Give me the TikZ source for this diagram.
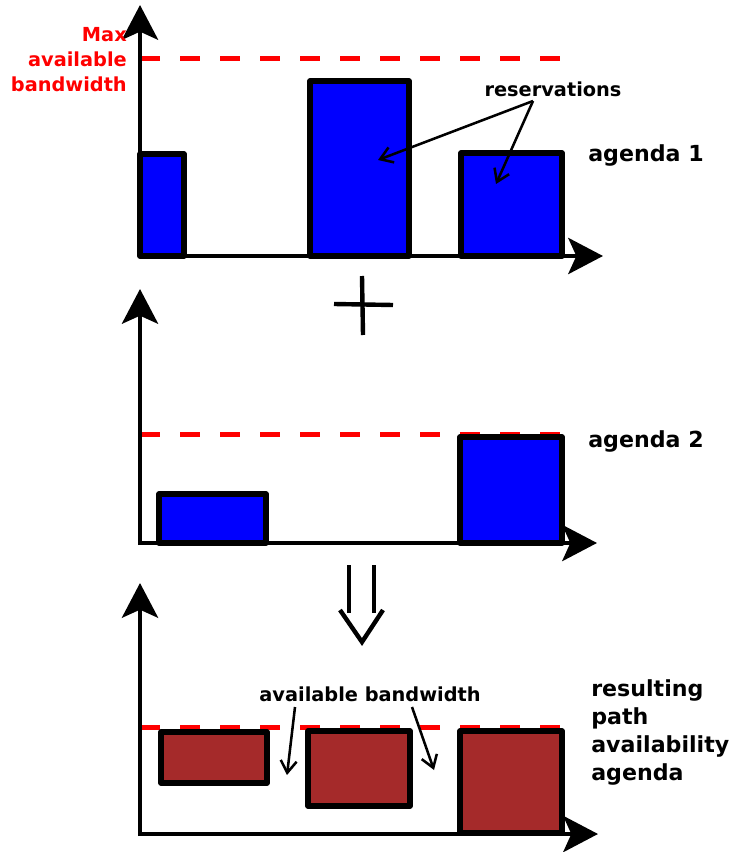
\documentclass[tikz,border=0pt]{standalone}
\usepackage{fontspec}
\setmainfont{DejaVu Sans}
\usetikzlibrary{arrows.meta}
\definecolor{barblue}{RGB}{0,0,255}
\definecolor{barbrown}{RGB}{165,42,42}
\definecolor{maxred}{RGB}{255,0,0}
\tikzset{
  axis/.style={line width=3.6pt,-{Stealth[length=26pt,width=27pt,inset=6pt]}},
  maxline/.style={maxred,line width=3.75pt,dash pattern=on 15pt off 15pt},
  resbar/.style={draw=black,fill=barblue,line width=3.9pt,line join=round},
  freebar/.style={draw=black,fill=barbrown,line width=3.9pt,line join=round},
  pointer/.style={line width=1.9pt,-{Straight Barb[length=9pt,width=12pt]}},
  lbl/.style={font=\bfseries\fontsize{14.5}{18.75}\selectfont,inner sep=0pt},
  biglbl/.style={font=\bfseries\fontsize{16.6}{21}\selectfont,inner sep=0pt},
}
\begin{document}
\begin{tikzpicture}[x=0.75pt,y=0.75pt,yscale=-1,xscale=1]
\useasboundingbox (0,0) rectangle (734,852);
% agenda 1
\draw [maxline] (140,59) -- (560,59) ;
\draw [resbar] (140,154) rectangle (184,256) ;
\draw [resbar] (310,81) rectangle (409,256) ;
\draw [resbar] (461,153) rectangle (562,256) ;
\draw [axis] (140,258) -- (140,5) ;
\draw [axis] (138,256) -- (603,256) ;
\node (maxbw) [lbl,maxred,align=right,anchor=east] at (127,60) {Max\\available\\bandwidth};
\node (resv) [lbl,anchor=base] at (553,97) {reservations};
\node (agA) [biglbl,anchor=base west] at (588,162) {agenda 1};
\coordinate (resfrom) at (533,101);
\coordinate (restoA) at (378,160);
\coordinate (restoB) at (496,184);
\draw [pointer] (resfrom) -- (restoA) ;
\draw [pointer] (resfrom) -- (restoB) ;
% plus
\draw [line width=3.3pt] (334,304) -- (393,305) ;
\draw [line width=3.3pt] (362,276) -- (363,335) ;
% agenda 2
\draw [maxline] (140,434) -- (560,434) ;
\draw [resbar] (159,494) rectangle (266,543) ;
\draw [resbar] (460,437) rectangle (562,543) ;
\draw [axis] (140,545) -- (140,289) ;
\draw [axis] (138,543) -- (597,543) ;
\node (agB) [biglbl,anchor=base west] at (588,447) {agenda 2};
% result arrow
\draw [line width=3.3pt] (349,565) -- (349,613) ;
\draw [line width=3.3pt] (374,565) -- (374,613) ;
\draw [line width=3.3pt] (340,610) -- (362,642) -- (383,610) ;
% result agenda
\draw [maxline] (140,727) -- (560,727) ;
\draw [freebar] (161,732) rectangle (267,783) ;
\draw [freebar] (308,731) rectangle (410,806) ;
\draw [freebar] (460,731) rectangle (562,833) ;
\draw [axis] (140,836) -- (140,583) ;
\draw [axis] (138,834) -- (598,834) ;
\node (avbw) [lbl,anchor=base] at (370,701) {available bandwidth};
\node (agC) [biglbl,align=left,anchor=north west] at (591,679) {resulting\\path\\availability\\agenda};
\coordinate (avfromA) at (295,707);
\coordinate (avfromB) at (412,707);
\coordinate (avtoA) at (287,775);
\coordinate (avtoB) at (434,770);
\draw [pointer] (avfromA) -- (avtoA) ;
\draw [pointer] (avfromB) -- (avtoB) ;
\end{tikzpicture}
\end{document}
